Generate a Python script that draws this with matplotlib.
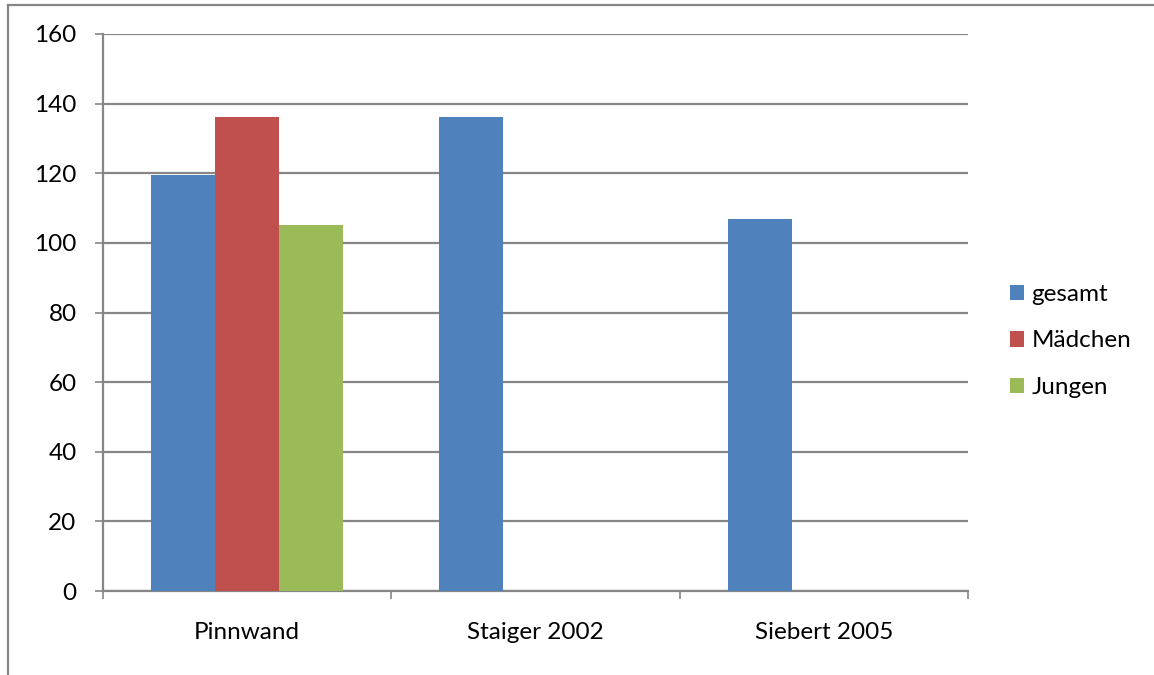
import numpy as np
import matplotlib.pyplot as plt
from matplotlib.lines import Line2D

# data
categories = ["Pinnwand", "Staiger 2002", "Siebert 2005"]
gesamt = [119.5, 136.2, 106.8]
maedchen = [136.2, np.nan, np.nan]
jungen = [105.1, np.nan, np.nan]
series_names = ["gesamt", "Mädchen", "Jungen"]
colors = ["#4F81BD", "#C0504D", "#9BBB59"]

plt.rcParams['font.family'] = ['Lato', 'DejaVu Sans']
grid_color = "#868686"
fs = 17.5

fig = plt.figure(figsize=(11.54, 6.75), dpi=100)
ax = fig.add_axes([103 / 1154, 1 - 591 / 675, 865 / 1154, 557 / 675])

x = np.arange(len(categories))
w = 0.222
for i, (vals, name, c) in enumerate(zip([gesamt, maedchen, jungen], series_names, colors)):
    ax.bar(x + (i - 1) * w, vals, width=w, color=c, label=name, zorder=3)

ax.set_xlim(-0.5, 2.5)
ax.set_ylim(0, 160)
ax.set_yticks(range(0, 161, 20))
ax.yaxis.grid(True, color=grid_color, linewidth=1.6, zorder=0)
ax.tick_params(axis='y', length=6, width=1.2, color=grid_color, pad=13, labelsize=fs)

# category boundaries get tick marks, category centers get the labels
ax.set_xticks([-0.5, 0.5, 1.5, 2.5])
ax.set_xticklabels([])
ax.set_xticks(x, minor=True)
ax.set_xticklabels(categories, minor=True)
ax.tick_params(axis='x', which='major', length=6, width=1.2, color=grid_color)
ax.tick_params(axis='x', which='minor', length=0, pad=22, labelsize=fs)

for s in ["top", "right"]:
    ax.spines[s].set_visible(False)
for s in ["left", "bottom"]:
    ax.spines[s].set_color(grid_color)
    ax.spines[s].set_linewidth(1.6)

fig.legend(loc='center left', bbox_to_anchor=(988 / 1154, 1 - 341 / 675),
           frameon=False, fontsize=fs, handlelength=0.6, handleheight=0.6,
           handletextpad=0.3, labelspacing=1.05)

# outer chart frame (left and top edges)
fig.add_artist(Line2D([8 / 1154, 8 / 1154], [0, 1 - 5 / 675], transform=fig.transFigure,
                      color=grid_color, linewidth=1.6))
fig.add_artist(Line2D([8 / 1154, 1], [1 - 5 / 675, 1 - 5 / 675], transform=fig.transFigure,
                      color=grid_color, linewidth=1.6))

fig.savefig("out.png", dpi=100)
